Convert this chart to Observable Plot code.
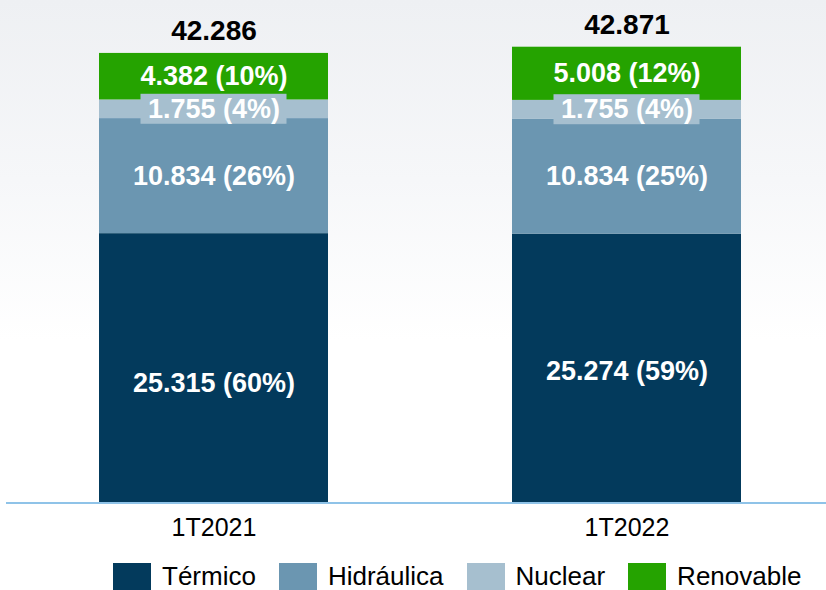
<!DOCTYPE html>
<html>
<head>
<meta charset="utf-8">
<script src="https://cdn.jsdelivr.net/npm/d3@7"></script>
<script src="https://cdn.jsdelivr.net/npm/@observablehq/plot@0.6"></script>
<style>
  html, body { margin: 0; padding: 0; }
  body {
    width: 826px; height: 590px; overflow: hidden;
    background: #ffffff linear-gradient(to bottom, #eef0f3 0px, #f6f7f9 180px, #ffffff 340px) no-repeat;
    font-family: "Liberation Sans", Arial, sans-serif;
  }
  #legend {
    display: flex; align-items: center; height: 40px; padding-top: 13px; box-sizing: border-box;
    padding-left: 113px;
  }
  .item { display: flex; align-items: center; margin-right: 23px; }
  .sw { width: 38px; height: 28px; margin-right: 11px; }
  .lab { font-size: 26px; color: #000; }
</style>
</head>
<body>
<div id="chart"></div>
<div id="legend"></div>
<script>
const periods = ["1T2021", "1T2022"];
const types = ["Térmico", "Hidráulica", "Nuclear", "Renovable"];
const termico = [25315, 25274];
const hidraulica = [10834, 10834];
const nuclear = [1755, 1755];
const renovable = [4382, 5008];
const totals = [42286, 42871];

const palette = ["#033a5c", "#6b96b1", "#a6bfcf", "#25a300"];
const series = [termico, hidraulica, nuclear, renovable];

const fmt = d3.formatLocale({decimal: ",", thousands: ".", grouping: [3], currency: ["", "€"]}).format(",");

const rows = [];
periods.forEach((p, i) => {
  let acc = 0;
  types.forEach((t, k) => {
    const v = series[k][i];
    const total = totals[i];
    rows.push({
      period: p, type: t, value: v, y1: acc, y2: acc + v, mid: acc + v / 2,
      label: `${fmt(v)} (${Math.round(v / total * 100)}%)`
    });
    acc += v;
  });
});
const totalRows = periods.map((p, i) => ({period: p, total: totals[i], label: fmt(totals[i])}));

const labelStyle = {x: "period", y: "mid", text: "label", fill: "white", fontSize: 27, fontWeight: "bold", lineAnchor: "middle"};

const chart = Plot.plot({
  width: 826,
  height: 550,
  marginLeft: 57,
  marginRight: 44,
  marginTop: 20,
  marginBottom: 48,
  style: {background: "transparent", fontFamily: "'Liberation Sans', Arial, sans-serif", color: "#000"},
  x: {domain: periods, range: [57, 782], paddingInner: 0.446, paddingOuter: 0.1, label: null},
  y: {domain: [0, 45386], range: [502, 20], axis: null},
  color: {domain: types, range: palette},
  marks: [
    Plot.barY(rows, {x: "period", y1: "y1", y2: "y2", fill: "type"}),
    Plot.barY(rows.filter(d => d.type === "Nuclear"), {
      x: "period", y1: "mid", y2: "mid", fill: palette[2],
      insetTop: -15, insetBottom: -15, insetLeft: 41.5, insetRight: 41.5
    }),
    Plot.text(rows.filter(d => d.type !== "Térmico"), labelStyle),
    Plot.text(rows.filter(d => d.type === "Térmico" && d.period === periods[0]), {...labelStyle, dy: 15}),
    Plot.text(rows.filter(d => d.type === "Térmico" && d.period === periods[1]), {...labelStyle, dy: 3}),
    Plot.text(totalRows, {x: "period", y: "total", text: "label", fill: "#000", fontSize: 28, fontWeight: "bold", lineAnchor: "middle", dy: -22}),
    Plot.axisX({tickSize: 0, tickPadding: 16, fontSize: 25, label: null})
  ]
});

document.getElementById("chart").appendChild(chart);

const y0 = chart.scale("y").apply(0);
d3.select(chart).append("line")
  .attr("x1", 6).attr("x2", 826)
  .attr("y1", y0 + 1).attr("y2", y0 + 1)
  .attr("stroke", "#8fc3e8").attr("stroke-width", 2);

const legend = d3.select("#legend");
types.forEach((t, k) => {
  const it = legend.append("div").attr("class", "item");
  it.append("div").attr("class", "sw").style("background", palette[k]);
  it.append("div").attr("class", "lab").text(t);
});
</script>
</body>
</html>
